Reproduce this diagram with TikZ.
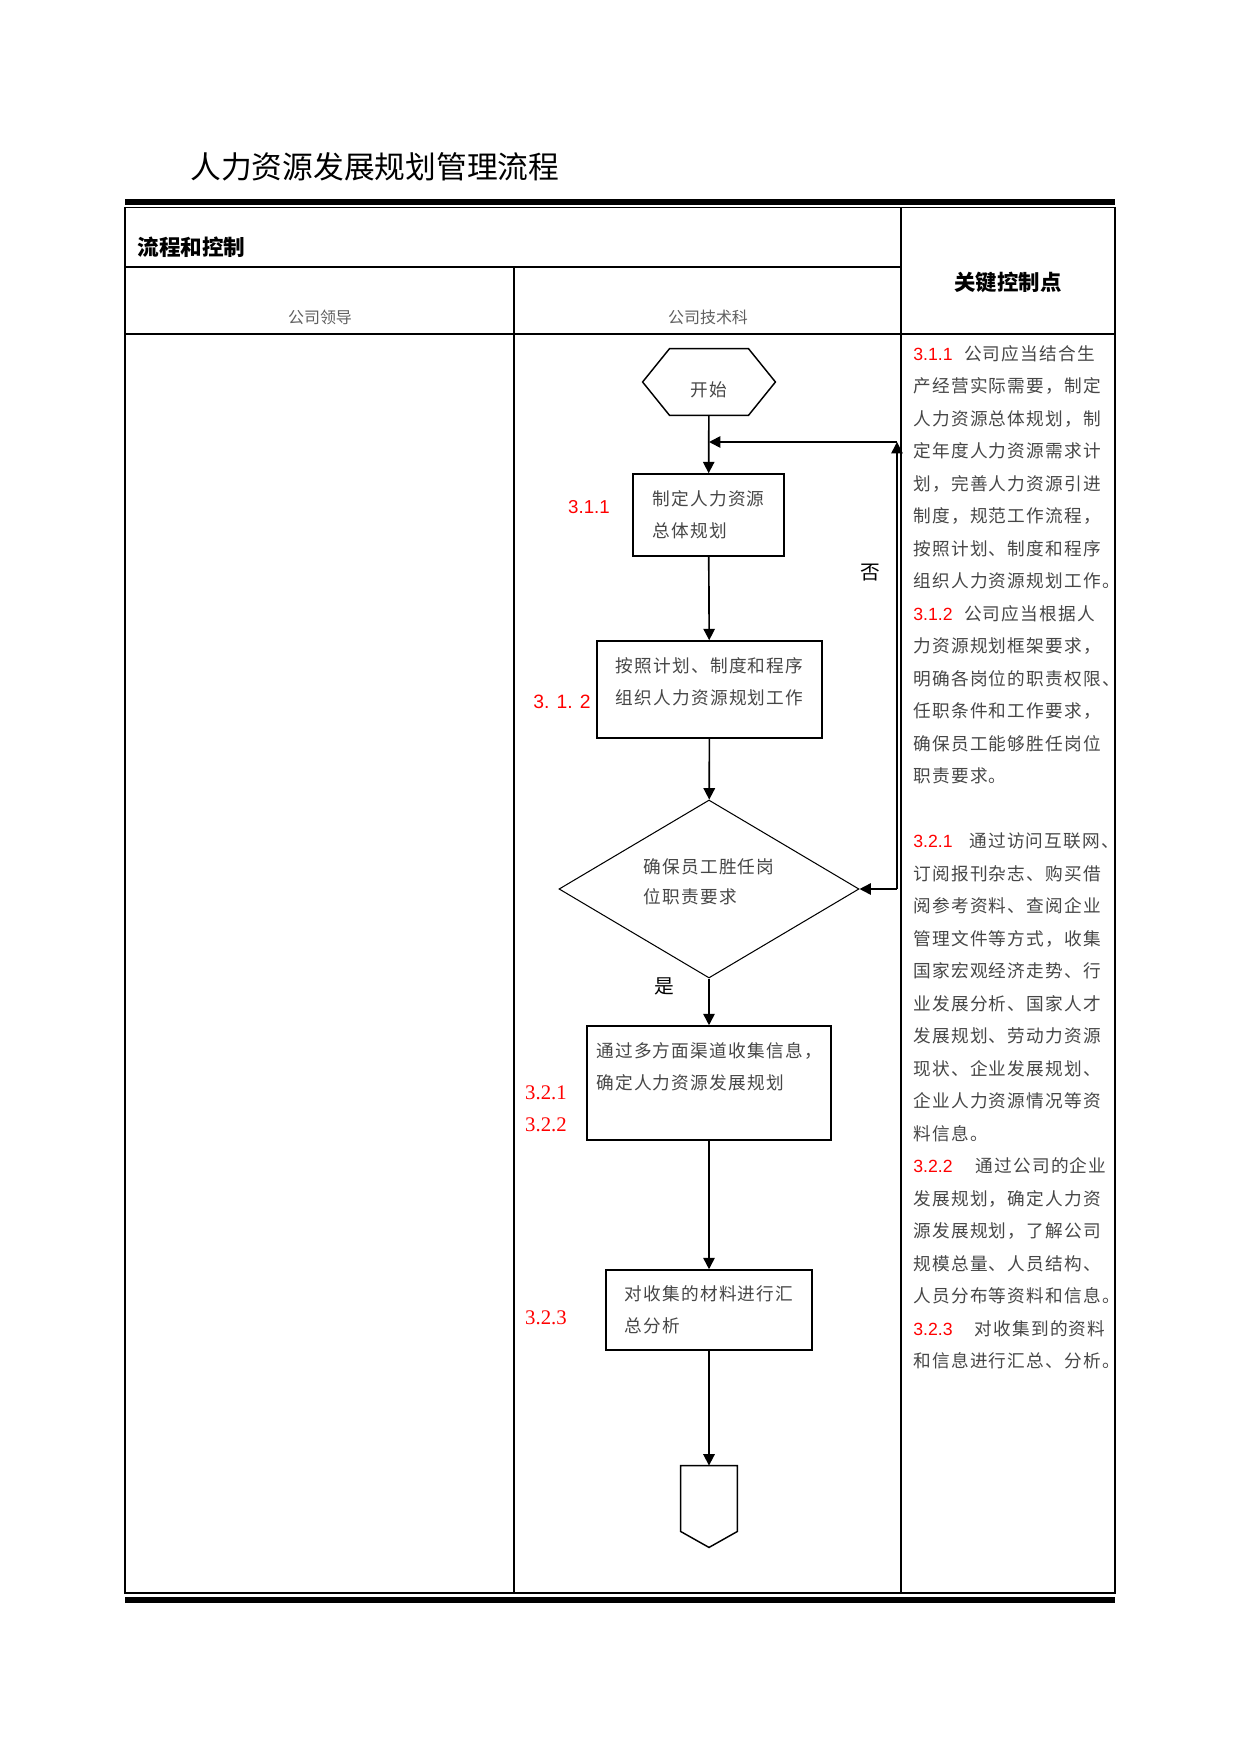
\documentclass[tikz,border=0pt]{standalone}
\usepackage{fontspec}
\usetikzlibrary{shapes.geometric, arrows.meta, positioning, calc}
\setmainfont{Liberation Serif}
\newfontfamily\hei{Noto Sans CJK SC}
\newfontfamily\song[LetterSpace=7]{Noto Sans CJK SC}
\newfontfamily\arial{Liberation Sans}
\definecolor{kpred}{RGB}{255,0,0}
\definecolor{txtgray}{RGB}{70,70,70}
\definecolor{lanegray}{RGB}{95,95,95}
\tikzstyle{process} = [rectangle, draw=black, line width=0.75pt, inner sep=0pt, align=left, text=txtgray, font=\song\fontsize{8.5}{15.4}\selectfont]
\tikzstyle{decision} = [diamond, aspect=2, draw=black, line width=0.5pt, inner sep=0pt, align=left, text=txtgray, font=\song\fontsize{8.5}{14.6}\selectfont]
\tikzstyle{terminal} = [rectangle, inner sep=0pt]
\tikzstyle{arrow} = [line width=0.8pt, -{Triangle[length=5.5pt,width=5.5pt]}]
\tikzstyle{stepnum} = [text=kpred, inner sep=0pt, font=\arial\fontsize{9}{11}\selectfont]
\tikzstyle{stepnumserif} = [text=kpred, inner sep=0pt, font=\fontsize{10}{12}\selectfont]
\tikzstyle{keytext} = [anchor=north west, inner sep=0pt, align=left, text=txtgray, font=\song\fontsize{8.5}{15.65}\selectfont]
\newcommand{\kpnum}[1]{{\arial\fontsize{8.5}{10}\selectfont\color{kpred}#1}}

\begin{document}
\begin{tikzpicture}[x=0.016922cm, y=-0.016922cm]
\useasboundingbox (0,0) rectangle (1241,1754);

% Title
\node[anchor=west, inner sep=0pt, font=\hei\fontsize{14.8}{17}\selectfont] (title) at (190,167) {人力资源发展规划管理流程};

% Table frame
\fill (125,199) rectangle (1115,205);
\draw[line width=0.5pt] (125,207.5) rectangle (1115,1593);
\draw[line width=1pt] (901,207.5) -- (901,1593);
\draw[line width=1pt] (125,267) -- (901,267);
\draw[line width=0.5pt] (514,267) -- (514,1593);
\draw[line width=0.6pt] (125,334) -- (1115,334);
\fill (125,1597) rectangle (1115,1603);

% Headers
\node[anchor=west, inner sep=0pt, font=\hei\bfseries\fontsize{10.4}{12}\selectfont] (flowhead) at (137,247) {流程和控制};
\node[font=\hei\bfseries\fontsize{10.3}{12}\selectfont] (keyhead) at (1008,282) {关键控制点};
\node[text=lanegray, font=\hei\fontsize{7.7}{9}\selectfont] (lane1) at (320,317) {公司领导};
\node[text=lanegray, font=\hei\fontsize{7.7}{9}\selectfont] (lane2) at (708,317) {公司技术科};

% Start
\node[terminal, minimum width=2.234cm, minimum height=1.117cm] (start) at (709,382) {};
\draw[line width=0.7pt] (start.west) -- ($(start.north west)+(27,0)$) -- ($(start.north east)+(-27,0)$) -- (start.east) -- ($(start.south east)+(-27,0)$) -- ($(start.south west)+(27,0)$) -- cycle;
\node[text=txtgray, font=\song\fontsize{8.5}{10}\selectfont] (startlabel) at (709,390) {开始};

% Steps
\node[process, minimum width=2.555cm, minimum height=1.388cm] (plan) at (708.5,515) {制定人力资源\\总体规划};
\node[process, minimum width=3.807cm, minimum height=1.641cm] (organize) at (709.5,689.5) {按照计划、制度和程序\\组织人力资源规划工作\\[-7.5pt]\mbox{}};
\node[decision, minimum width=5.077cm, minimum height=3.012cm] (check) at (709,889) {确保员工胜任岗\\位职责要求\\[-7pt]\mbox{}};
\node[process, minimum width=4.129cm, minimum height=1.929cm] (collect) at (709,1083) {通过多方面渠道收集信息，\\确定人力资源发展规划\\\phantom{确}};
\node[process, minimum width=3.486cm, minimum height=1.354cm] (analyse) at (709,1310) {对收集的材料进行汇\\总分析};

% End connector
\node[terminal, minimum width=0.948cm, minimum height=1.371cm] (endcon) at (709,1506.5) {};
\draw[line width=0.7pt] (endcon.north west) -- (endcon.north east) -- ($(endcon.south east)+(0,-16)$) -- (endcon.south) -- ($(endcon.south west)+(0,-16)$) -- cycle;

% Step numbers
\node[stepnum] (n311) at (589,507) {3.1.1};
\node[stepnum, font=\arial\fontsize{9.3}{11}\selectfont] (n312) at (562,702) {3. 1. 2};
\node[stepnumserif] (n321) at (546,1093) {3.2.1};
\node[stepnumserif] (n322) at (546,1125) {3.2.2};
\node[stepnumserif] (n323) at (546,1318) {3.2.3};

% Connections
\draw[arrow] (start) -- (plan);
\draw[arrow] (plan) -- (organize);
\draw[arrow] (organize) -- (check);
\draw[arrow] (check) -- (collect);
\draw[arrow] (collect) -- (analyse);
\draw[arrow] (analyse) -- (endcon);
\coordinate (loopbot) at (897,889);
\coordinate (looptop) at (897,442);
\draw[arrow] (loopbot) -- (check.east);
\draw[arrow] (loopbot) -- (looptop);
\draw[arrow] (looptop) -- (looptop -| start);
\node[font=\hei\fontsize{9.5}{11}\selectfont] (no) at (870,573) {否};
\node[font=\hei\fontsize{9.5}{11}\selectfont] (yes) at (664,986) {是};

% Key control points
\node[keytext] (kp311) at (913,345) {\kpnum{3.1.1}\hspace{5.5pt}公司应当结合生\\产经营实际需要，制定\\人力资源总体规划，制\\定年度人力资源需求计\\划，完善人力资源引进\\制度，规范工作流程，\\按照计划、制度和程序\\组织人力资源规划工作。};
\node[keytext] (kp312) at (913,605) {\kpnum{3.1.2}\hspace{5.5pt}公司应当根据人\\力资源规划框架要求，\\明确各岗位的职责权限、\\任职条件和工作要求，\\确保员工能够胜任岗位\\职责要求。};
\node[keytext] (kp321) at (913,832.5) {\kpnum{3.2.1}\hspace{8pt}通过访问互联网、\\订阅报刊杂志、购买借\\阅参考资料、查阅企业\\管理文件等方式，收集\\国家宏观经济走势、行\\业发展分析、国家人才\\发展规划、劳动力资源\\现状、企业发展规划、\\企业人力资源情况等资\\料信息。};
\node[keytext] (kp322) at (913,1157.5) {\kpnum{3.2.2}\hspace{11pt}通过公司的企业\\发展规划，确定人力资\\源发展规划，了解公司\\规模总量、人员结构、\\人员分布等资料和信息。};
\node[keytext] (kp323) at (913,1320) {\kpnum{3.2.3}\hspace{10.5pt}对收集到的资料\\和信息进行汇总、分析。};

\end{tikzpicture}
\end{document}
